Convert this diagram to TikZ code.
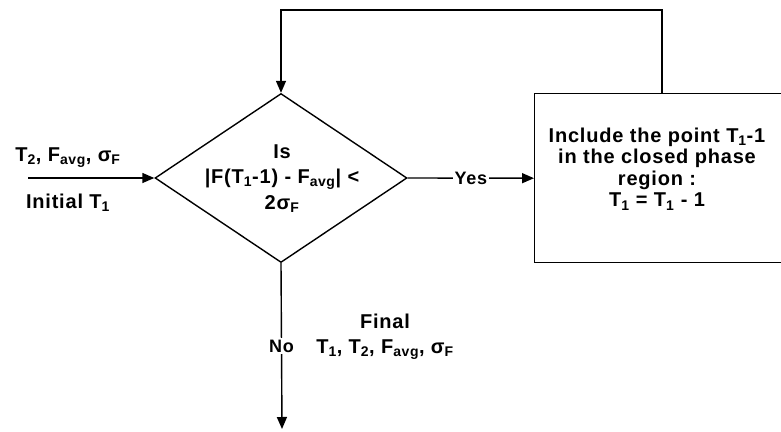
\documentclass[tikz,border=0pt]{standalone}
\usepackage{fontspec}
\setmainfont{Liberation Sans}[LetterSpace=4]
\usetikzlibrary{shapes.geometric,arrows.meta}
\tikzset{
  arr/.style={line width=1.4pt,-{Triangle[length=12pt,width=10pt]}},
  shapeline/.style={draw,line width=1.4pt},
  lbl/.style={font=\bfseries\fontsize{20}{20}\selectfont,align=center,inner sep=1pt},
  boxlbl/.style={lbl,font=\bfseries\fontsize{20}{21.5}\selectfont},
  gap/.style={fill=white,inner sep=2pt,font=\bfseries\fontsize{18}{20}\selectfont}
}
\newcommand\sbx[1]{\textsubscript{#1}}
\begin{document}
\begin{tikzpicture}[x=1pt,y=-1pt]
\useasboundingbox (0,0) rectangle (781,431);
\clip (0,0) rectangle (781,431);
\node[diamond,shapeline,minimum width=252pt,minimum height=169pt,inner sep=0pt] (d) at (281,178) {};
\node[lbl] (dtxt) at (282,179) {Is\\[5pt]|F(T\sbx{1}-1) - F\sbx{avg}| <\\[5pt]2σ\sbx{F}};
\node[shapeline,minimum width=267pt,minimum height=169pt,anchor=north west,inner sep=0pt] (box) at (534,93) {};
\node[boxlbl] (btxt) at (657,169) {Include the point T\sbx{1}-1\\in the closed phase\\region :\\T\sbx{1} = T\sbx{1} - 1};
\coordinate (in) at (28,178);
\coordinate (fb) at (662,93);
\coordinate (out) at (282,429);
\draw[arr] (in) -- (d.west);
\node[lbl] (inA) at (68,158) {T\sbx{2}, F\sbx{avg}, σ\sbx{F}};
\node[lbl] (inB) at (68,203) {Initial T\sbx{1}};
\draw[arr] (d.east) -- node[gap] (yes) {Yes} (box.west);
\draw[arr] (fb) -- ++(0,-83) -| (d.north);
\draw[arr] (d.south) -- node[gap,pos=0.5] (no) {No} (out);
\node[lbl] (fin) at (385,321) {Final};
\node[lbl] (finv) at (385,350) {T\sbx{1}, T\sbx{2}, F\sbx{avg}, σ\sbx{F}};
\end{tikzpicture}
\end{document}
